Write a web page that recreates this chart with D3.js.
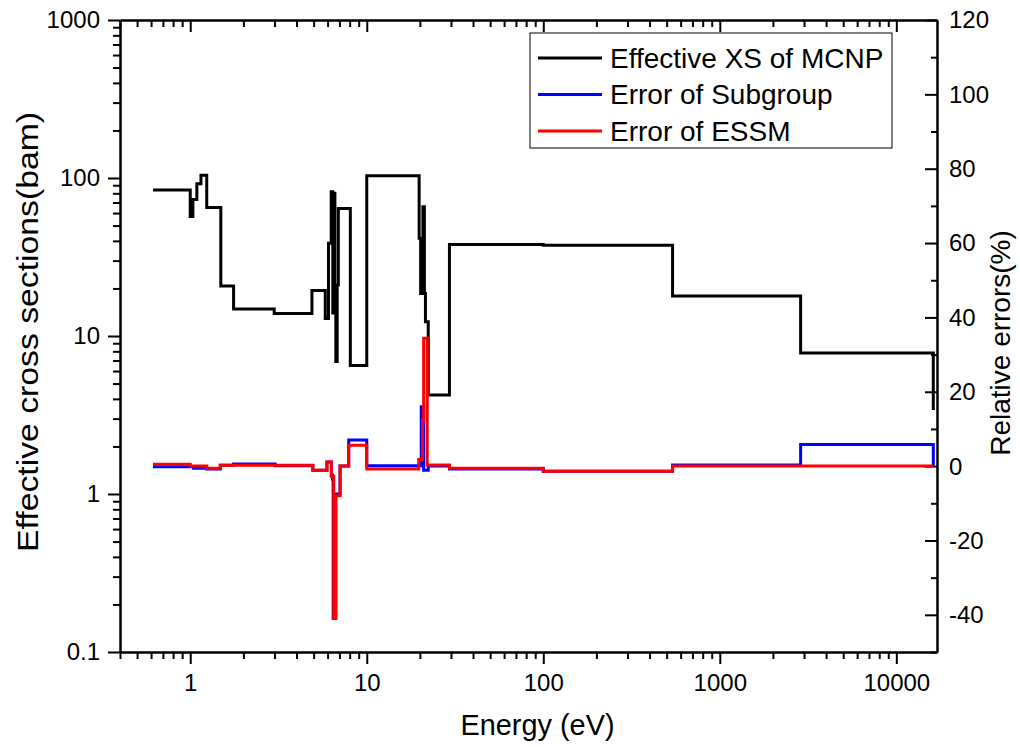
<!DOCTYPE html>
<html>
<head>
<meta charset="utf-8">
<script src="https://cdn.jsdelivr.net/npm/d3@7"></script>
<style>
    body { margin: 0; background: #fff; }
    text { font-family: "Liberation Sans", Arial, sans-serif; fill: #000; }
</style>
</head>
<body>
<div class="grafico"></div>
<script>
// datos (energia en eV)
const mcnpEnergy = [0.615, 1.0, 1.035, 1.09, 1.15, 1.24, 1.49, 1.76, 2.99, 4.89, 5.82, 6.07, 6.29, 6.42, 6.5, 6.6, 6.68, 6.8, 6.9, 8.07, 10.0, 19.8, 20.2, 20.5, 20.8, 21.2, 21.5, 22.3, 29.4, 100, 540, 2870, 16200];
const mcnpXS = [84, 57, 73, 92, 104, 65, 20.7, 14.8, 13.9, 19.4, 12.9, 38.6, 81.7, 14, 80, 21, 6.9, 21, 64, 6.5, 103.5, 41.5, 18.6, 41, 65.8, 18.6, 12.3, 4.24, 38, 37.5, 17.9, 7.8, 3.4];

const subEnergy = [0.615, 1.045, 1.24, 1.48, 1.76, 3.03, 4.95, 5.95, 6.3, 6.4, 6.45, 6.65, 7.06, 7.9, 10.0, 20.35, 21.0, 22.3, 29.4, 100, 540, 2870, 16200];
const subError = [-0.2, -0.6, -0.8, 0.2, 0.6, 0.1, -1.1, 1.1, -2.4, -3.5, -40.9, -7.5, 0, 7, 0.1, 16, -1.1, 0, -0.8, -1.4, 0.3, 5.8, 0];

const essmEnergy = [0.615, 1.0, 1.24, 1.48, 4.95, 5.95, 6.3, 6.5, 6.7, 7.06, 7.9, 10.0, 19.7, 20.7, 21.0, 22.0, 29.4, 100, 540, 16200];
const essmError = [0.5, 0, -0.6, 0.2, -1.1, 1.1, -2.8, -40.9, -8, 0, 5.6, -0.8, 1.8, 12.4, 34.4, 0.3, -0.6, -1.4, 0, 0];

const xTicks = [1, 10, 100, 1000, 10000];
const yLeftTicks = [0.1, 1, 10, 100, 1000];
const yRightTicks = [-40, -20, 0, 20, 40, 60, 80, 100, 120];

const series = [
    { name: 'Effective XS of MCNP', color: '#000000' },
    { name: 'Error of Subgroup', color: '#0000ff' },
    { name: 'Error of ESSM', color: '#ff0000' }
];

const ancho = 1020,
    alto = 747,
    margen = { left: 120, right: 83, top: 20, bottom: 95 };

const w = ancho - margen.left - margen.right,
    h = alto - margen.top - margen.bottom;

let svg = d3.select('.grafico').append('svg')
    .attr('width', ancho)
    .attr('height', alto);

let g = svg.append('g')
    .attr('transform', 'translate(' + margen.left + ',' + margen.top + ')');

const x = d3.scaleLog().domain([0.4, 17000]).range([0, w]);
const yL = d3.scaleLog().domain([0.1, 1000]).range([h, 0]);
const yR = d3.scaleLinear().domain([-50, 120]).range([h, 0]);

// ticks menores del eje log
function minorLog(scale) {
    const [a, b] = scale.domain();
    let out = [];
    for (let e = Math.floor(Math.log10(a)); e <= Math.ceil(Math.log10(b)); e++) {
        for (let k = 2; k <= 9; k++) {
            const v = k * Math.pow(10, e);
            if (v >= a && v <= b) out.push(v);
        }
    }
    return out;
}

function estiloEje(sel) {
    sel.select('.domain').attr('stroke', '#000').attr('stroke-width', 2);
    sel.selectAll('.tick line').attr('stroke', '#000').attr('stroke-width', 2);
    sel.selectAll('.tick text').style('font-size', '24px');
}

// eje inferior
g.append('g')
    .attr('transform', 'translate(0,' + h + ')')
    .call(d3.axisBottom(x).tickValues(xTicks).tickFormat(d3.format('d')).tickSize(12).tickPadding(10).tickSizeOuter(0))
    .call(estiloEje);
g.append('g')
    .attr('transform', 'translate(0,' + h + ')')
    .call(d3.axisBottom(x).tickValues(minorLog(x)).tickFormat('').tickSize(7).tickSizeOuter(0))
    .call(estiloEje);

// eje superior (solo marcas hacia adentro)
g.append('g')
    .call(d3.axisBottom(x).tickValues(xTicks).tickFormat('').tickSize(12).tickSizeOuter(0))
    .call(estiloEje);
g.append('g')
    .call(d3.axisBottom(x).tickValues(minorLog(x)).tickFormat('').tickSize(7).tickSizeOuter(0))
    .call(estiloEje);

// eje izquierdo
g.append('g')
    .call(d3.axisLeft(yL).tickValues(yLeftTicks).tickFormat(d => d < 1 ? '0.1' : d3.format('d')(d)).tickSize(12).tickPadding(8).tickSizeOuter(0))
    .call(estiloEje);
g.append('g')
    .call(d3.axisLeft(yL).tickValues(minorLog(yL)).tickFormat('').tickSize(7).tickSizeOuter(0))
    .call(estiloEje);

// eje derecho (marcas hacia adentro)
g.append('g')
    .attr('transform', 'translate(' + w + ',0)')
    .call(d3.axisLeft(yR).tickValues(yRightTicks).tickFormat('').tickSize(12).tickSizeOuter(0))
    .call(estiloEje);
g.append('g')
    .attr('transform', 'translate(' + w + ',0)')
    .call(d3.axisLeft(yR).tickValues(d3.range(-50, 121, 10).filter(v => v % 20 !== 0)).tickFormat('').tickSize(6).tickSizeOuter(0))
    .call(estiloEje);
g.append('g')
    .selectAll('text')
    .data(yRightTicks)
    .enter().append('text')
    .attr('x', w + 12)
    .attr('y', d => yR(d))
    .attr('dy', '0.35em')
    .style('font-size', '24px')
    .text(d => d);

// lineas de datos
const lineaXS = d3.line()
    .x((d, i) => x(mcnpEnergy[i]))
    .y(d => yL(d))
    .curve(d3.curveStepAfter);

const lineaErr = (energias) => d3.line()
    .x((d, i) => x(energias[i]))
    .y(d => yR(d))
    .curve(d3.curveStepAfter);

g.append('path')
    .datum(mcnpXS)
    .attr('d', lineaXS)
    .attr('fill', 'none')
    .attr('stroke', series[0].color)
    .attr('stroke-width', 3);

g.append('path')
    .datum(subError)
    .attr('d', lineaErr(subEnergy))
    .attr('fill', 'none')
    .attr('stroke', series[1].color)
    .attr('stroke-width', 3);

g.append('path')
    .datum(essmError)
    .attr('d', lineaErr(essmEnergy))
    .attr('fill', 'none')
    .attr('stroke', series[2].color)
    .attr('stroke-width', 3);

// leyenda
let leyenda = g.append('g')
    .attr('transform', 'translate(' + (530 - margen.left) + ',' + (33 - margen.top) + ')');

leyenda.append('rect')
    .attr('width', 362)
    .attr('height', 115)
    .attr('fill', '#fff')
    .attr('stroke', '#000')
    .attr('stroke-width', 1);

let item = leyenda.selectAll('.item')
    .data(series)
    .enter().append('g')
    .attr('transform', (d, i) => 'translate(0,' + (25 + i * 36.5) + ')');

item.append('line')
    .attr('x1', 8).attr('x2', 72)
    .attr('stroke', d => d.color)
    .attr('stroke-width', 3);

item.append('text')
    .attr('x', 80)
    .attr('dy', '0.35em')
    .style('font-size', '28px')
    .text(d => d.name);

// titulos de ejes
svg.append('text')
    .attr('x', margen.left + w / 2 + 9)
    .attr('y', 735)
    .attr('text-anchor', 'middle')
    .style('font-size', '30px')
    .attr('textLength', 154)
    .attr('lengthAdjust', 'spacingAndGlyphs')
    .text('Energy (eV)');

svg.append('text')
    .attr('transform', 'translate(38,332) rotate(-90)')
    .attr('text-anchor', 'middle')
    .style('font-size', '30px')
    .attr('textLength', 440)
    .attr('lengthAdjust', 'spacingAndGlyphs')
    .text('Effective cross sections(bam)');

svg.append('text')
    .attr('transform', 'translate(1010,343) rotate(-90)')
    .attr('text-anchor', 'middle')
    .style('font-size', '28px')
    .text('Relative errors(%)');
</script>
</body>
</html>
